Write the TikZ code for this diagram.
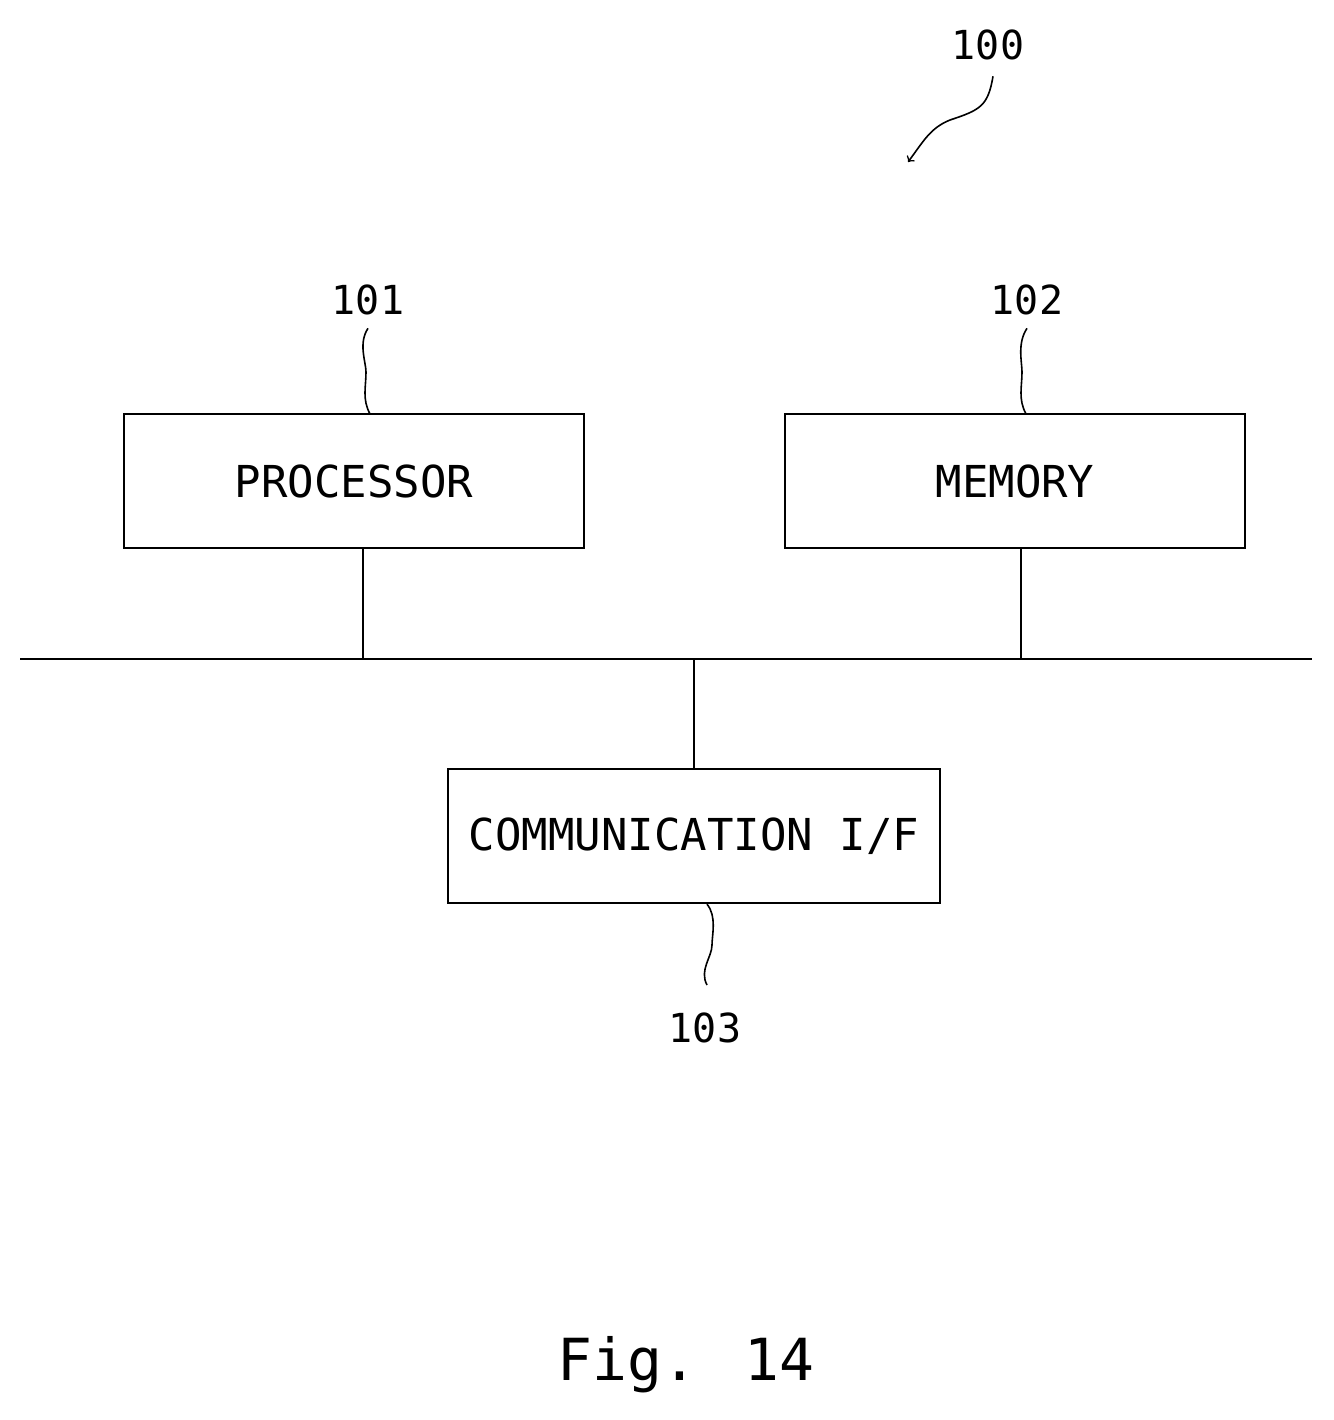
\documentclass[tikz,border=0pt]{standalone}
\usepackage{fontspec}
\setmainfont{DejaVu Sans Mono}
\usetikzlibrary{positioning}

\begin{document}
\begin{tikzpicture}[x=0.5pt,y=-0.5pt,line width=1.2pt,
    block/.style={draw,minimum width=230pt,minimum height=67pt,inner sep=0pt,font=\fontsize{22}{24}\selectfont},
    refnum/.style={font=\fontsize{20}{22}\selectfont,inner sep=0pt}]
        \useasboundingbox (0,0) rectangle (1334,1420);

        \node[block] (proc) at (354,481) {PROCESSOR};
        \node[block] (mem)  at (1015,481) {MEMORY};
        \node[block,minimum width=246pt] (comm) at (694,836) {COMMUNICATION I/F};

        \coordinate (busL) at (20,659);
        \coordinate (busR) at (1312,659);
        \draw (busL) -- (busR);
        \draw (proc.south -| 363,0) -- (363,659);
        \draw (mem.south -| 1021,0) -- (1021,659);
        \draw (comm.north) -- (694,659);

        \node[refnum] (n100) at (988,45) {100};
        \node[refnum] (n101) at (368,300) {101};
        \node[refnum] (n102) at (1027,300) {102};
        \node[refnum] (n103) at (705,1028) {103};

        % leaders
        \draw[line width=0.8pt] (n101.south) ++(0,12) .. controls +(-10,15) and +(0,-10) .. (366,372) .. controls +(0,15) and +(-8,-15) .. (370,414);
        \draw[line width=0.8pt] (n102.south) ++(0,12) .. controls +(-10,15) and +(0,-10) .. (1022,372) .. controls +(0,15) and +(-8,-15) .. (1026,414);
        \draw[line width=0.8pt] (comm.south -| 707,0) .. controls +(10,12) and +(0,-10) .. (712,945) .. controls +(0,12) and +(-8,-15) .. (707,985);
        \draw[line width=0.8pt,->] (n100.south) ++(5,15) .. controls +(-5,30) and +(30,-10) .. (950,120) .. controls +(-20,8) and +(15,-20) .. (908,162);

        \node[font=\fontsize{29}{32}\selectfont] (fig) at (686,1365) {Fig. 14};
\end{tikzpicture}
\end{document}
